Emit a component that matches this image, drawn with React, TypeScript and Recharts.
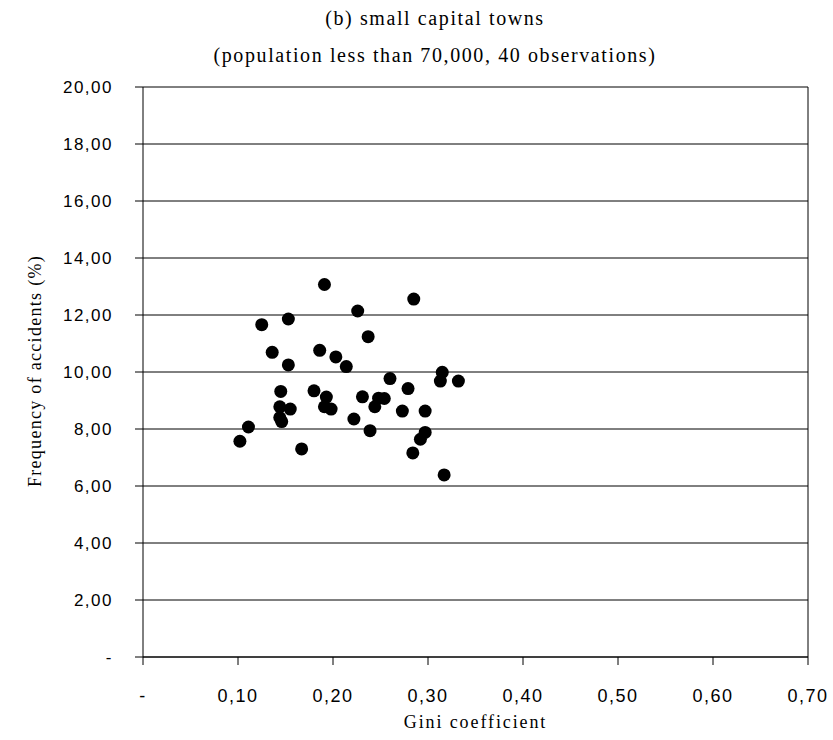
import React from "react";
import {
  ScatterChart, Scatter, XAxis, YAxis, CartesianGrid, ReferenceLine, Label,
} from "recharts";

// Gini coefficient vs frequency of accidents, small capital towns (40 obs)
const giniValues = [
  0.191, 0.226, 0.125, 0.153, 0.136, 0.153, 0.186, 0.203, 0.214, 0.145,
  0.180, 0.193, 0.144, 0.155, 0.191, 0.198, 0.144, 0.146, 0.222, 0.111,
  0.102, 0.167, 0.285, 0.237, 0.315, 0.313, 0.332, 0.260, 0.279, 0.231,
  0.248, 0.254, 0.244, 0.273, 0.297, 0.239, 0.297, 0.292, 0.284, 0.317,
];
const accidentValues = [
  13.07, 12.14, 11.66, 11.86, 10.69, 10.25, 10.76, 10.53, 10.19, 9.32,
  9.34, 9.12, 8.78, 8.70, 8.78, 8.70, 8.40, 8.26, 8.35, 8.07,
  7.57, 7.30, 12.56, 11.24, 9.99, 9.68, 9.68, 9.77, 9.42, 9.13,
  9.08, 9.07, 8.78, 8.63, 8.63, 7.94, 7.88, 7.64, 7.16, 6.39,
];
const xTicks = [0, 0.1, 0.2, 0.3, 0.4, 0.5, 0.6, 0.7];
const yTicks = [0, 2, 4, 6, 8, 10, 12, 14, 16, 18, 20];

const titleLines = [
  "(b) small capital towns",
  "(population less than 70,000, 40 observations)",
];

const SERIF = "'Liberation Serif', 'Times New Roman', serif";
const SANS = "'Liberation Sans', Arial, sans-serif";

const fmt = (v: number) => (v === 0 ? "-" : v.toFixed(2).replace(".", ","));

const Dot = (p: any) => <circle cx={p.cx} cy={p.cy} r={6.5} fill="#000" />;

export default function App() {
  const data = giniValues.map((g, i) => ({ x: g, y: accidentValues[i] }));

  return (
    <div style={{ position: "absolute", left: 0, top: 0, width: 833, height: 740, background: "#fff" }}>
      {titleLines.map((t, i) => (
        <div
          key={i}
          style={{
            position: "absolute", left: 0, width: 870, top: 6 + i * 37,
            textAlign: "center", fontFamily: SERIF, fontSize: 20, letterSpacing: 1.6,
            lineHeight: "24px", color: "#000",
          }}
        >
          {t}
        </div>
      ))}
      <ScatterChart width={833} height={740} margin={{ top: 87, right: 25, bottom: 0, left: 0 }}>
        <CartesianGrid vertical={false} stroke="#000" strokeWidth={1} />
        <XAxis
          type="number"
          dataKey="x"
          domain={[0, 0.7]}
          ticks={xTicks}
          tickFormatter={fmt}
          height={83}
          tickSize={8}
          tickMargin={24}
          interval={0}
          axisLine={{ stroke: "#000" }}
          tickLine={{ stroke: "#000" }}
          tick={{ fill: "#000", fontSize: 18, fontFamily: SANS, letterSpacing: 1.5 }}
        >
          <Label
            value="Gini coefficient"
            position="insideBottom"
            offset={12}
            style={{ fill: "#000", fontSize: 18, fontFamily: SERIF, letterSpacing: 1.9 }}
          />
        </XAxis>
        <YAxis
          type="number"
          dataKey="y"
          domain={[0, 20]}
          ticks={yTicks}
          tickFormatter={fmt}
          width={143}
          tickSize={8}
          tickMargin={22}
          interval={0}
          axisLine={{ stroke: "#000" }}
          tickLine={{ stroke: "#000" }}
          tick={{ fill: "#000", fontSize: 17, fontFamily: SANS, letterSpacing: 1.5 }}
        >
          <Label
            content={() => (
              <text
                x={35}
                y={371}
                transform="rotate(-90 35 371)"
                textAnchor="middle"
                dominantBaseline="central"
                style={{ fill: "#000", fontSize: 18, fontFamily: SERIF, letterSpacing: 1.3 }}
              >
                Frequency of accidents (%)
              </text>
            )}
          />
        </YAxis>
        <ReferenceLine x={0.7} stroke="#000" />
        <Scatter data={data} fill="#000" shape={Dot} isAnimationActive={false} />
      </ScatterChart>
    </div>
  );
}
